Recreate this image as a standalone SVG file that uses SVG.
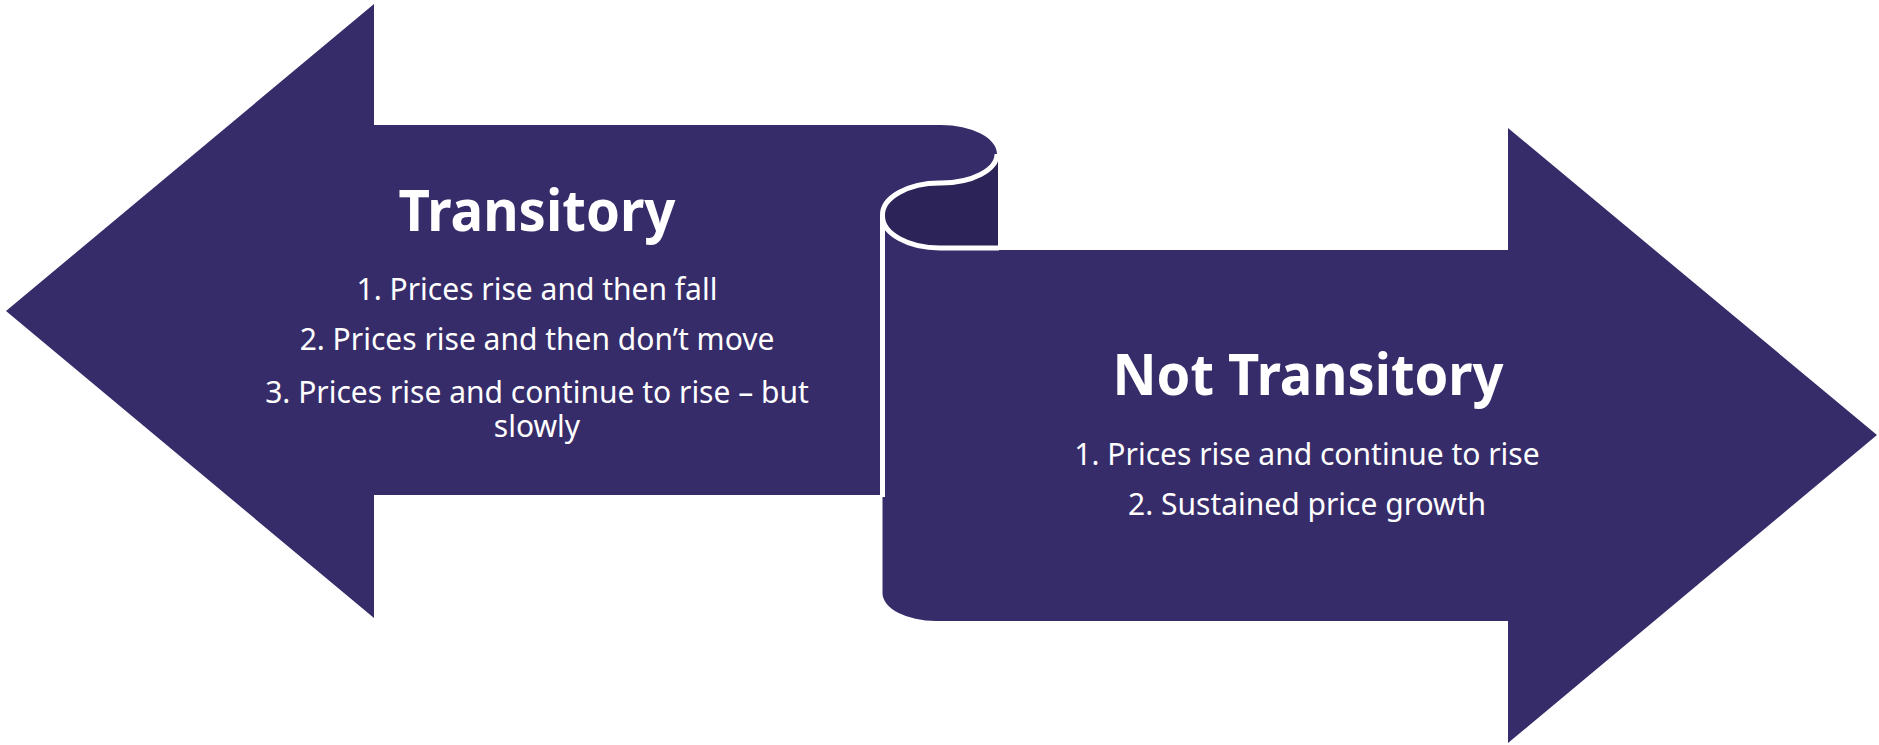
<svg xmlns="http://www.w3.org/2000/svg" width="1879" height="745" viewBox="0 0 1879 745">
  <style>
    .body { fill: #372c6a; }
    .gap { fill: none; stroke: #ffffff; stroke-width: 5; stroke-linejoin: round; }
    .under { fill: #2c2458; }
    .title { font-family: "Noto Sans", "Liberation Sans", sans-serif; font-weight: 700; font-size: 58px; fill: #ffffff; text-anchor: middle; }
    .item { font-family: "Noto Sans", "Liberation Sans", sans-serif; font-size: 30px; fill: #ffffff; text-anchor: middle; }
  </style>

  <rect width="1879" height="745" fill="#ffffff"/>

  <!-- left-pointing arrow with the upper curl of the scroll -->
  <g id="transitory">
    <path class="body" d="M6,311 L374,4 L374,125 L941,125 A56,29 0 0 1 997,154 A56,29 0 0 1 941,183 L941,252 L880,252 L880,495 L374,495 L374,618 Z"/>
    <text class="title" x="537" y="231" textLength="277" lengthAdjust="spacingAndGlyphs">Transitory</text>
    <text class="item" x="537" y="300">1. Prices rise and then fall</text>
    <text class="item" x="537" y="350">2. Prices rise and then don’t move</text>
    <text class="item" x="537" y="403">3. Prices rise and continue to rise – but</text>
    <text class="item" x="537" y="437">slowly</text>
  </g>

  <!-- right-pointing arrow unrolling from the scroll -->
  <g id="not-transitory">
    <path class="body" d="M882.5,216 L882.5,593 A54,28 0 0 0 936,621 L1508,621 L1508,743 L1877,435 L1508,128 L1508,250 L940,250 A57.5,32 0 0 1 882.5,216 Z"/>
    <!-- underside of the roll -->
    <path class="under" d="M997,154 A56,29 0 0 1 941,183 A57.5,32 0 0 0 882.5,216 A57.5,32 0 0 0 940,248 L998,248 L998,154 Z"/>
    <!-- white seams of the scroll -->
    <path class="gap" d="M997,154 A56,29 0 0 1 941,183 A57.5,32 0 0 0 882.5,216 A57.5,32 0 0 0 940,248 L999,248"/>
    <path class="gap" d="M882.5,216 L882.5,497"/>
    <text class="title" x="1308" y="395" textLength="391" lengthAdjust="spacingAndGlyphs">Not Transitory</text>
    <text class="item" x="1307" y="465">1. Prices rise and continue to rise</text>
    <text class="item" x="1307" y="515">2. Sustained price growth</text>
  </g>

  <g id="connectors"/>
</svg>
